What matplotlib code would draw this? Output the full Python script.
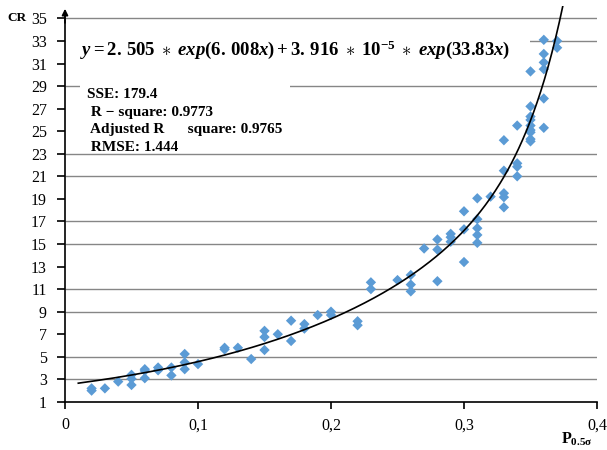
import matplotlib
matplotlib.use("Agg")
import matplotlib.pyplot as plt
from matplotlib.patches import Rectangle
import numpy as np

plt.rcParams['font.family'] = ['Liberation Serif', 'DejaVu Serif']
plt.rcParams['mathtext.fontset'] = 'custom'
plt.rcParams['mathtext.it'] = 'Liberation Serif:italic:bold'
plt.rcParams['mathtext.rm'] = 'Liberation Serif:bold'
plt.rcParams['mathtext.bf'] = 'Liberation Serif:bold'

# measured points: P_0.5sigma (x) vs CR (y)
p_vals = [0.02, 0.02, 0.03, 0.04,
          0.05, 0.05, 0.05, 0.06, 0.06, 0.06, 0.07, 0.07, 0.08, 0.08,
          0.09, 0.09, 0.09, 0.10, 0.12, 0.12, 0.13, 0.14,
          0.15, 0.15, 0.15, 0.16, 0.17, 0.17, 0.18, 0.18, 0.19, 0.20, 0.20,
          0.22, 0.22, 0.23, 0.23, 0.25, 0.26, 0.26, 0.26, 0.27,
          0.28, 0.28, 0.28, 0.29, 0.29, 0.29, 0.30, 0.30, 0.30,
          0.31, 0.31, 0.31, 0.31, 0.31, 0.32,
          0.33, 0.33, 0.33, 0.33, 0.33, 0.34, 0.34, 0.34, 0.34,
          0.35, 0.35, 0.35, 0.35, 0.35, 0.35, 0.35, 0.35, 0.35,
          0.36, 0.36, 0.36, 0.36, 0.36, 0.36, 0.37, 0.37]
cr_vals = [2.0, 2.2, 2.2, 2.8,
           2.5, 3.05, 3.4, 3.1, 3.75, 3.9, 3.8, 4.05, 3.35, 4.05,
           3.9, 4.5, 5.25, 4.35, 5.65, 5.8, 5.8, 4.8,
           5.6, 6.75, 7.3, 7.0, 6.4, 8.2, 7.5, 7.9, 8.7, 8.7, 9.0,
           7.8, 8.15, 11.0, 11.6, 11.8, 10.8, 11.4, 12.25, 14.6,
           11.7, 14.5, 15.4, 15.2, 15.6, 15.9, 13.4, 16.3, 17.9,
           15.1, 15.8, 16.4, 17.2, 19.05, 19.2,
           18.25, 19.15, 19.5, 21.5, 24.2, 21.0, 21.85, 22.15, 25.5,
           24.1, 24.3, 24.9, 25.1, 25.5, 26.0, 26.3, 27.2, 30.3,
           25.3, 27.9, 30.5, 31.1, 31.85, 33.1, 32.4, 33.0]

# fitted model printed on the chart: y = a*exp(b*x) + c*exp(d*x)
fit_a, fit_b = 2.505, 6.008
fit_c, fit_d = 3.916e-5, 33.83
fit_x_start, fit_x_end = 0.01, 0.38

x_ticks = [0, 0.1, 0.2, 0.3, 0.4]
x_tick_labels = ['0', '0,1', '0,2', '0,3', '0,4']
y_ticks = list(range(1, 36, 2))
grid_levels = [3, 5, 9, 11, 15, 17, 21, 23, 29, 33, 35]

equation = (r'$y = 2.\,505 \;\ast\; exp(6.\,008x) + 3.\,916 \;\ast\; 10^{-5}'
            r' \;\ast\; exp(33.83x)$')
stats_lines = ['SSE: 179.4', ' R \u2212 square: 0.9773',
               ' Adjusted R      square: 0.9765', ' RMSE: 1.444']

W, H = 607, 450
fig = plt.figure(figsize=(W / 100, H / 100), dpi=100)
ax = fig.add_axes([65 / W, (H - 401.9) / H, 532 / W, 395.9 / H])
ax.set_xlim(0, 0.4)
ax.set_ylim(1, 36.1)

ax.hlines(grid_levels, 0, 0.4, color='#868686', lw=1, zorder=0.5)

# white boxes behind the texts hide the grid
ax.add_patch(Rectangle((0.002, 0.818), 0.872, 0.116, transform=ax.transAxes,
                       facecolor='white', edgecolor='none', zorder=1))
ax.add_patch(Rectangle((0.028, 0.632), 0.395, 0.176, transform=ax.transAxes,
                       facecolor='white', edgecolor='none', zorder=1))

ax.scatter(p_vals, cr_vals, marker='D', s=28, color='#5B9BD5',
           edgecolors='none', zorder=3)

fx = np.linspace(fit_x_start, fit_x_end, 400)
fy = fit_a * np.exp(fit_b * fx) + fit_c * np.exp(fit_d * fx)
ax.plot(fx, fy, color='black', lw=1.2, zorder=4)

for s in ['top', 'right']:
    ax.spines[s].set_visible(False)
ax.spines['left'].set_bounds(1, 35.2)
ax.spines['left'].set_linewidth(1.2)
ax.spines['bottom'].set_linewidth(1.2)
ax.annotate('', xy=(0, 35.85), xytext=(0, 34.6),
            arrowprops=dict(arrowstyle='-|>', color='black', lw=1.2,
                            mutation_scale=9, shrinkA=0, shrinkB=0),
            annotation_clip=False)

ax.set_xticks(x_ticks)
ax.set_xticklabels(x_tick_labels)
ax.set_yticks(y_ticks)
ax.tick_params(axis='x', direction='out', length=5, width=1.2, pad=6,
               labelsize=11.5)
ax.tick_params(axis='y', direction='out', length=6, width=1.2, pad=7,
               labelsize=11.5)

ax.text(15 / 532, (401.9 - 50) / 395.9, equation, transform=ax.transAxes,
        fontsize=13.5, ha='left', va='center', zorder=5)
for i, line in enumerate(stats_lines):
    ax.text(22 / 532, (401.9 - (95 + 17.5 * i)) / 395.9, line,
            transform=ax.transAxes, fontsize=11, fontweight='bold',
            ha='left', va='center', zorder=5)

fig.text(26 / W, 1 - 18 / H, 'CR', fontsize=9.5, fontweight='bold',
         ha='right', va='center')
fig.text(561 / W, 2 / H, r'$\mathbf{P}_{\mathbf{0.5\sigma}}$',
         fontsize=11.5, ha='left', va='bottom')

fig.savefig('out.png', dpi=100)
